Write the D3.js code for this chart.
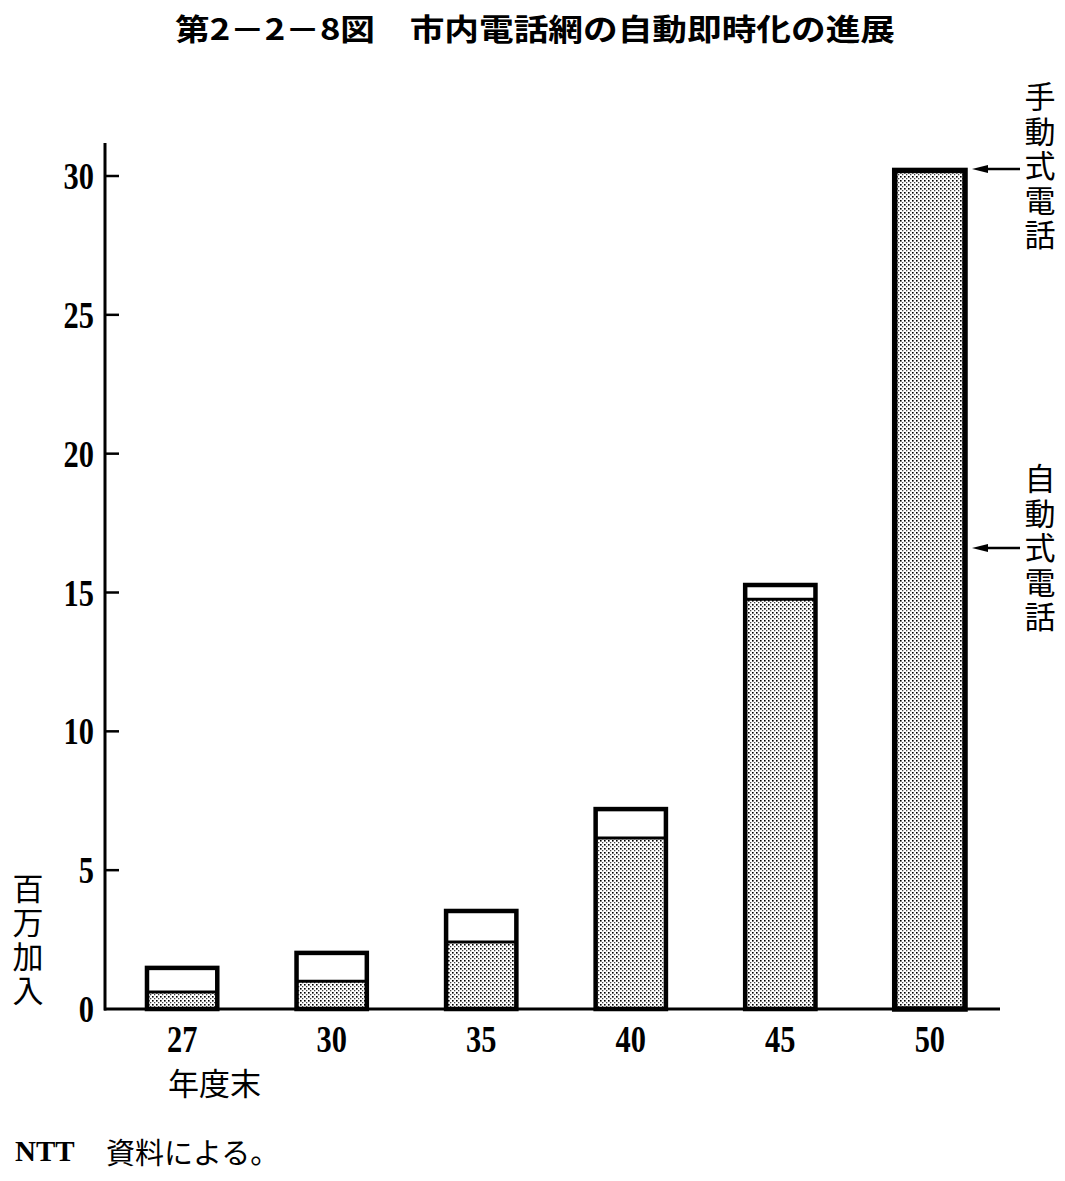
<!DOCTYPE html>
<html><head><meta charset="utf-8">
<script src="https://cdn.jsdelivr.net/npm/d3@7"></script>
<style>body{margin:0;background:#fff}svg{display:block}</style>
</head><body>
<script>
const years = ["27","30","35","40","45","50"];
const autoVals = [0.61, 1.0, 2.41, 6.16, 14.76, 30.2];
const totalVals = [1.48, 2.02, 3.53, 7.2, 15.27, 30.2];
const yTicks = [0,5,10,15,20,25,30];

const W=1065,H=1181;
const svg=d3.select("body").append("svg").attr("width",W).attr("height",H);
const jp='"Noto Sans CJK JP","Noto Sans CJK SC",sans-serif';
const serif='"Liberation Serif","DejaVu Serif",serif';

const defs=svg.append("defs");
const pat=defs.append("pattern").attr("id","dots").attr("patternUnits","userSpaceOnUse").attr("width",4).attr("height",4);
pat.append("rect").attr("width",4).attr("height",4).attr("fill","#fff");
pat.append("rect").attr("x",0).attr("y",0).attr("width",1.6).attr("height",1.6).attr("fill","#000");
pat.append("rect").attr("x",2).attr("y",2).attr("width",1.3).attr("height",1.3).attr("fill","#444");

const y=d3.scaleLinear().domain([0,30]).range([1009,176]);
const x=d3.scaleBand().domain(years).range([109.6,1002.4]).paddingInner(0.53).paddingOuter(0.25);

// title
svg.append("text").attr("x",535).attr("y",40).attr("text-anchor","middle")
 .attr("font-family",jp).attr("font-weight","bold").attr("font-size",30)
 .attr("textLength",720).attr("lengthAdjust","spacingAndGlyphs")
 .text("第2－2－8図　市内電話網の自動即時化の進展");

// bars
const data=years.map((d,i)=>({year:d,auto:autoVals[i],total:totalVals[i]}));
const g=svg.append("g");
g.selectAll(".man").data(data).join("rect")
 .attr("x",d=>x(d.year)).attr("width",x.bandwidth())
 .attr("y",d=>y(d.total)).attr("height",d=>y(d.auto)-y(d.total)).attr("fill","#fff");
g.selectAll(".aut").data(data).join("rect")
 .attr("x",d=>x(d.year)).attr("width",x.bandwidth())
 .attr("y",d=>y(d.auto)).attr("height",d=>y(0)-y(d.auto)).attr("fill","url(#dots)");
g.selectAll(".div").data(data.filter(d=>d.total>d.auto)).join("line")
 .attr("x1",d=>x(d.year)).attr("x2",d=>x(d.year)+x.bandwidth())
 .attr("y1",d=>y(d.auto)).attr("y2",d=>y(d.auto)).attr("stroke","#000").attr("stroke-width",3);
g.selectAll(".out").data(data).join("rect")
 .attr("x",d=>x(d.year)).attr("width",x.bandwidth())
 .attr("y",d=>y(d.total)).attr("height",d=>y(0)-y(d.total))
 .attr("fill","none").attr("stroke","#000").attr("stroke-width",d=>d.year==="50"?5.5:4.5);

// axes
svg.append("line").attr("x1",105).attr("x2",105).attr("y1",143).attr("y2",y(0)+1.5).attr("stroke","#000").attr("stroke-width",3);
svg.append("line").attr("x1",104).attr("x2",1000).attr("y1",y(0)).attr("y2",y(0)).attr("stroke","#000").attr("stroke-width",3);
svg.selectAll(".tk").data(yTicks.filter(d=>d>0)).join("line")
 .attr("x1",105).attr("x2",119).attr("y1",d=>y(d)).attr("y2",d=>y(d)).attr("stroke","#000").attr("stroke-width",2.5);
svg.selectAll(".tl").data(yTicks).join("text")
 .attr("transform",d=>`translate(94,${y(d)+13}) scale(0.8,1)`)
 .attr("text-anchor","end").attr("font-family",serif).attr("font-weight","bold").attr("font-size",38).text(d=>d);
svg.selectAll(".xl").data(years).join("text")
 .attr("transform",d=>`translate(${x(d)+x.bandwidth()/2},1052) scale(0.8,1)`)
 .attr("text-anchor","middle").attr("font-family",serif).attr("font-weight","bold").attr("font-size",38).text(d=>d);

// vertical labels
const vlab=(txt,cx,top,size,sp)=>svg.append("text").attr("x",cx).attr("y",top)
 .attr("writing-mode","vertical-rl").style("text-orientation","upright")
 .attr("font-family",jp).attr("font-size",size).attr("letter-spacing",sp).text(txt);
vlab("百万加入",28,873,31,3);
svg.append("text").attr("x",168).attr("y",1095).attr("font-family",jp).attr("font-size",31).text("年度末");

vlab("手動式電話",1040,81,31,3.5);
vlab("自動式電話",1040,463,31,3.5);
const arrow=(yy)=>{
 svg.append("line").attr("x1",1020).attr("x2",984).attr("y1",yy).attr("y2",yy).attr("stroke","#000").attr("stroke-width",2.5);
 svg.append("path").attr("d",`M${972},${yy} L${988},${yy-4} L${988},${yy+4} Z`).attr("fill","#000");
};
arrow(169);
arrow(548);

// footer
svg.append("text").attr("x",15).attr("y",1161).attr("font-family",serif).attr("font-weight","bold").attr("font-size",29).text("NTT");
svg.append("text").attr("x",106).attr("y",1164).attr("font-family",jp).attr("font-size",29).text("資料による。");
</script>
</body></html>
